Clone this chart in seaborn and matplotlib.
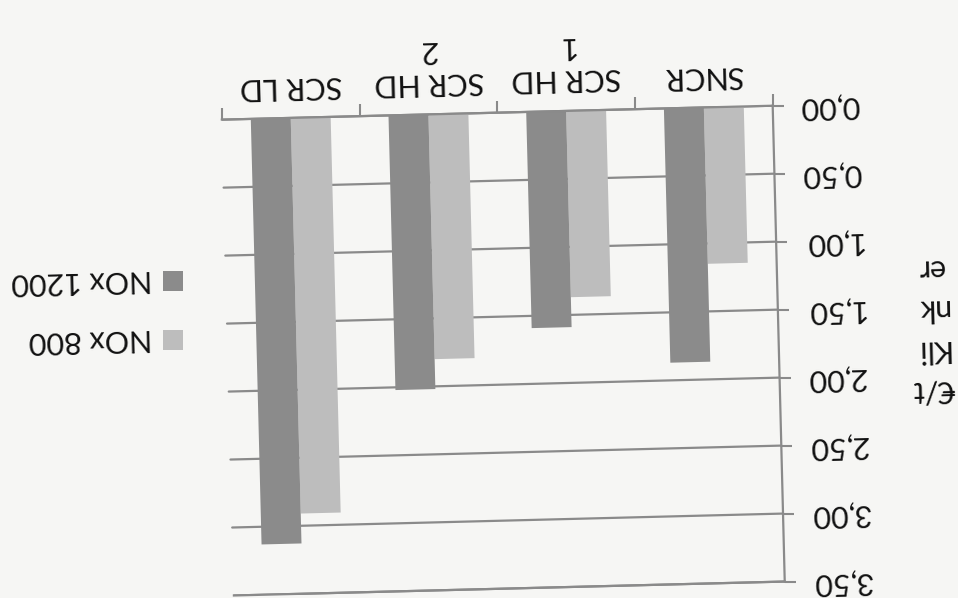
import matplotlib
matplotlib.use("Agg")
import matplotlib.pyplot as plt
import matplotlib.transforms as mtransforms
from matplotlib.axes import Axes
from matplotlib.projections import register_projection
from matplotlib.patches import Rectangle
import seaborn as sns
import pandas as pd

# Cost per tonne of clinker for each NOx abatement technique
categories = ["SNCR", "SCR HD\n1", "SCR HD\n2", "SCR LD"]
series = ["NOx 800", "NOx 1200"]
nox_800 = [1.15, 1.37, 1.80, 2.91]
nox_1200 = [1.87, 1.59, 2.02, 3.13]
y_ticks = [0.0, 0.5, 1.0, 1.5, 2.0, 2.5, 3.0, 3.5]
y_tick_labels = ["0,00", "0,50", "1,00", "1,50", "2,00", "2,50", "3,00", "3,50"]
y_title = "€/t\nKli\nnk\ner"

light = "#bdbdbd"
dark = "#8b8b8b"
grid = "#8a8a8a"
ink = "#111111"
paper = "#f6f6f4"

W, H = 958, 598
TILT = 1.45                      # the printed page sits slightly askew
PIVOT = (503.3, H - 350.6)       # pixel centre of the plotting area


class TiltedAxes(Axes):
    """Ordinary cartesian axes whose whole frame is turned by a small angle."""
    name = "tilted"

    def _set_lim_and_transforms(self):
        box = mtransforms.BboxTransformTo(self.bbox)
        turn = mtransforms.Affine2D().rotate_deg_around(PIVOT[0], PIVOT[1], TILT)
        self.transScale = mtransforms.TransformWrapper(mtransforms.IdentityTransform())
        self.transLimits = mtransforms.BboxTransformFrom(
            mtransforms.TransformedBbox(self._viewLim, self.transScale))
        data_to_box = self.transScale + (self.transLimits + box)
        self.transAxes = box + turn
        self.transData = data_to_box + turn
        self._xaxis_transform = mtransforms.blended_transform_factory(data_to_box, box) + turn
        self._yaxis_transform = mtransforms.blended_transform_factory(box, data_to_box) + turn


register_projection(TiltedAxes)

df = pd.DataFrame({
    "Verfahren": categories * 2,
    "Reihe": [series[0]] * len(categories) + [series[1]] * len(categories),
    "Kosten": nox_800 + nox_1200,
})

sns.set_theme(style="white")
plt.rcParams["font.family"] = ["Lato", "DejaVu Sans"]

fig = plt.figure(figsize=(W / 100, H / 100), dpi=100, facecolor=paper)
left, right, top, bottom = 227.8, 778.8, 112.6, 588.6
ax = fig.add_axes([left / W, 1 - bottom / H, (right - left) / W, (bottom - top) / H],
                  projection="tilted", facecolor=paper)

sns.barplot(data=df, x="Verfahren", y="Kosten", hue="Reihe",
            order=categories, hue_order=series,
            palette=[light, dark], width=0.58, saturation=1,
            edgecolor="none", linewidth=0, legend=False, ax=ax)

# the page is printed upside down: both axes reversed, labels turned over
ax.set_xlim(3.5, -0.5)
ax.set_ylim(3.5, 0)
ax.set_xlabel("")
ax.set_ylabel("")
turned = 180 + TILT

ax.yaxis.tick_right()
ax.set_yticks(y_ticks)
ax.set_yticklabels(y_tick_labels, rotation=turned, fontsize=22, color=ink, va="center")
ax.tick_params(axis="y", which="major", right=True, left=False, length=8,
               width=1.5, color=grid, pad=11, direction="out")

ax.xaxis.tick_top()
ax.set_xticks(range(len(categories)))
ax.set_xticklabels(categories, rotation=turned, fontsize=22, color=ink)
ax.set_xticks([i - 0.5 for i in range(len(categories) + 1)], minor=True)
ax.tick_params(axis="x", which="major", top=True, bottom=False, length=0, pad=12)
ax.tick_params(axis="x", which="minor", top=True, bottom=False, length=9,
               width=1.5, color=grid, direction="out")

ax.grid(axis="y", color=grid, linewidth=1.6)
ax.set_axisbelow(True)
for side in ("top", "right", "bottom"):
    ax.spines[side].set_visible(True)
    ax.spines[side].set_color(grid)
    ax.spines[side].set_linewidth(1.6)
ax.spines["left"].set_visible(False)

fig.text(932 / W, 1 - 329 / H, y_title, rotation=turned, ha="center", va="center",
         multialignment="center", fontsize=22, linespacing=1.55, color=ink)

# legend, turned over like the rest of the chart
legend_rows = [(series[1], dark, 281), (series[0], light, 340)]
for label, color, yc in legend_rows:
    fig.add_artist(Rectangle((163 / W, 1 - (yc + 10) / H), 20 / W, 20 / H,
                             transform=fig.transFigure, facecolor=color,
                             edgecolor="none"))
    fig.text(153 / W, 1 - yc / H, label, rotation=turned, ha="right", va="center",
             fontsize=22, color=ink)

fig.savefig("out.png", dpi=100, facecolor=paper)
